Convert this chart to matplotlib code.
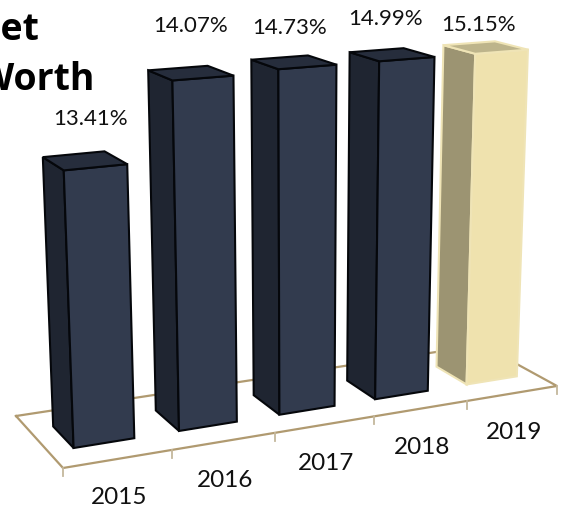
import numpy as np
import matplotlib
matplotlib.use('Agg')
import matplotlib.pyplot as plt

# Data
years = ['2015', '2016', '2017', '2018', '2019']
rates = [13.41, 14.07, 14.73, 14.99, 15.15]
rate_labels = ['13.41%', '14.07%', '14.73%', '14.99%', '15.15%']

plt.rcParams['font.family'] = ['Lato', 'DejaVu Sans']

# Colours: (front, side, top, edge)
navy = ('#323b4e', '#1f2531', '#262d3c', '#05070b')
gold = ('#efe2ae', '#9c9472', '#bdb48b', '#efe4b6')
line_col = '#b09a70'
tick_col = '#c4b79c'

# Floor corners in pixels: front left, front right, back left, back right
floor_px = [(63, 469), (557, 387), (16, 417), (482, 346)]
floor_uv = [(0, 0), (5, 0), (0, 1), (5, 1)]
vanish = np.array([299.0, 6800.0])   # where the bar verticals converge
rise = -0.000148                     # perspective rate of the height axis


def floor_matrix():
    A, b = [], []
    for (u, v), (x, y) in zip(floor_uv, floor_px):
        A.append([u, v, 1, 0, 0, 0, -u * x, -v * x])
        A.append([0, 0, 0, u, v, 1, -u * y, -v * y])
        b += [x, y]
    h = np.linalg.solve(np.array(A, float), np.array(b, float))
    return np.append(h, 1).reshape(3, 3)


H = floor_matrix()


def project(u, v, z=0.0):
    p = H @ np.array([u, v, 1.0])
    base = p[:2] / p[2]
    t = z * rise / (p[2] + z * rise)
    return tuple(base + (vanish - base) * t)


def value_height(v):
    # saturating value scale of the height axis
    return 375 * (1 - np.exp(-(v - 13.11) / 0.2))


fig = plt.figure(figsize=(5.61, 5.10), dpi=100)
ax = fig.add_axes([0, 0, 1, 1])
ax.set_xlim(0, 561)
ax.set_ylim(510, 0)
ax.axis('off')

# floor outline and ticks
outline = [project(0, 1), project(0, 0), project(5, 0), project(5, 1), project(0, 1)]
ax.plot(*zip(*outline), color=line_col, lw=1.6, solid_joinstyle='miter', zorder=1)
for i in range(6):
    x, y = project(i, 0)
    ax.plot([x, x], [y, y + 8], color=tick_col, lw=1.3, zorder=1)

# bars
pad_l, pad_r, d0, d1 = 0.23, 0.2, 0.29, 0.71
for i, (val, lab) in enumerate(zip(rates, rate_labels)):
    front, side, top, edge = gold if i == 4 else navy
    z = value_height(val)
    u0, u1 = i + pad_l, i + 1 - pad_r
    fl, fr = project(u0, d0), project(u1, d0)
    bl = project(u0, d1)
    tfl, tfr = project(u0, d0, z), project(u1, d0, z)
    tbl, tbr = project(u0, d1, z), project(u1, d1, z)
    for pts, col in [([bl, fl, tfl, tbl], side),
                     ([fl, fr, tfr, tfl], front),
                     ([tbl, tfl, tfr, tbr], top)]:
        ax.fill(*zip(*pts), facecolor=col, edgecolor=edge, lw=1.5,
                joinstyle='miter', zorder=3)

# value labels
label_xy = [(91, 119), (191, 26), (290, 28), (386, 19), (479, 25)]
for (x, y), lab in zip(label_xy, rate_labels):
    ax.text(x, y, lab, ha='center', va='center', fontsize=16, color='#111111', zorder=5)

# year labels under the front edge
for i, yr in enumerate(years):
    x, y = project(i + 0.5, 0)
    ax.text(x + 1, y + 38, yr, ha='center', va='center', fontsize=17.5, color='#111111', zorder=5)

# heading runs off the left side
ax.text(40, 40, 'Net', ha='right', va='baseline', fontsize=27, fontweight='bold',
        family='Open Sans', color='black')
ax.text(95, 90, 'Worth', ha='right', va='baseline', fontsize=27, fontweight='bold',
        family='Open Sans', color='black')

fig.savefig('out.png', dpi=100)
